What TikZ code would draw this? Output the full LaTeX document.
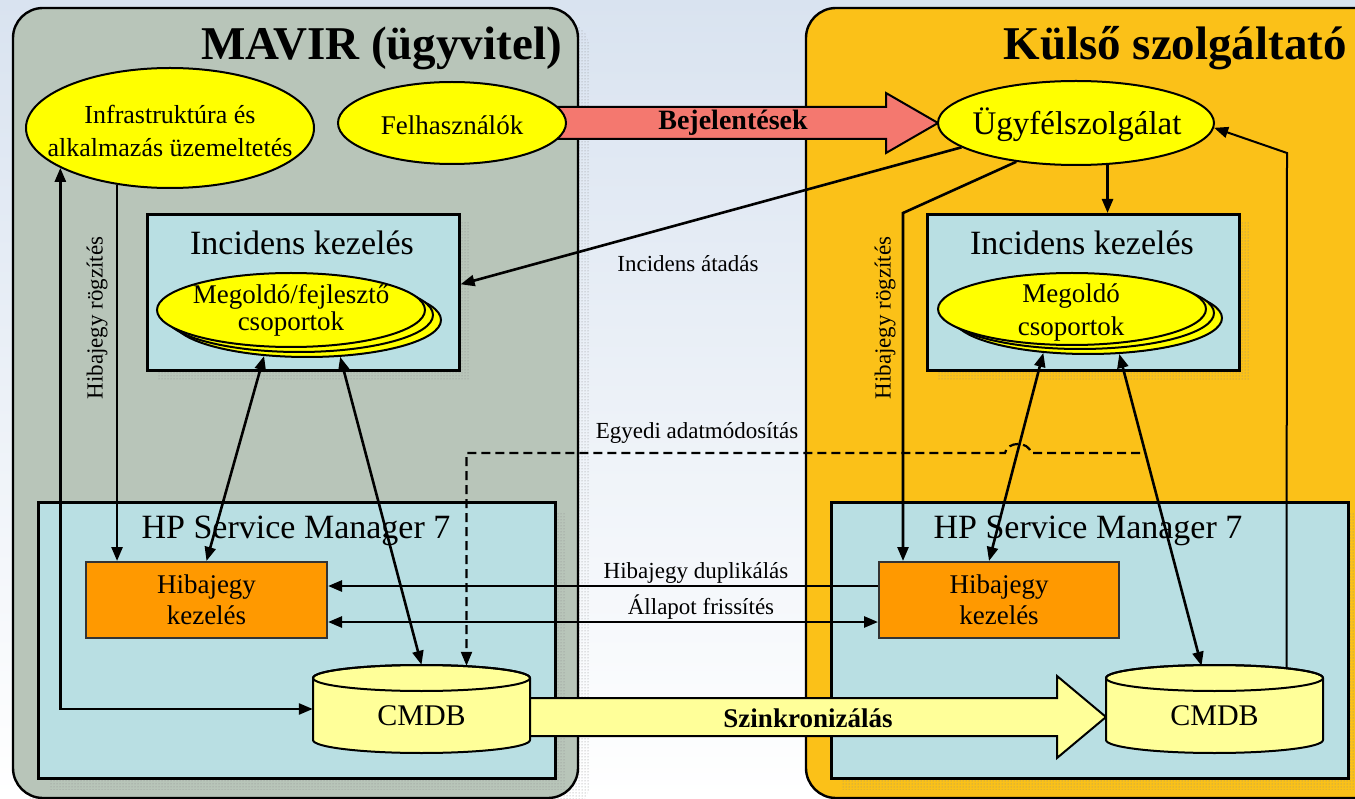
\documentclass[tikz,border=0pt]{standalone}
\usepackage{fontspec}
\setmainfont{Liberation Serif}
\usetikzlibrary{arrows.meta,patterns,calc,shapes.geometric}
\definecolor{bgblue}{HTML}{D9E3F0}
\definecolor{mavir}{HTML}{B8C5B9}
\definecolor{kulso}{HTML}{FBC118}
\definecolor{boxcyan}{HTML}{B9DFE3}
\definecolor{ellyellow}{HTML}{FFFF00}
\definecolor{hiborange}{HTML}{FF9900}
\definecolor{cmdbyellow}{HTML}{FFFF99}
\definecolor{bejred}{HTML}{F4786F}
\newcommand{\fsz}[2]{\fontsize{#1}{#2}\selectfont}
\begin{document}
\begin{tikzpicture}[x=1pt,y=-1pt,
  panel/.style={draw=black,line width=2.4pt,rounded corners=30pt},
  shadowdots/.style={pattern=dots,pattern color=black!45},
  cbox/.style={rectangle,draw=black,line width=2.6pt,fill=boxcyan,inner sep=0pt},
  ell/.style={ellipse,draw=black,line width=2pt,fill=ellyellow,inner sep=0pt},
  etext/.style={align=center,inner sep=0pt},
  hib/.style={rectangle,draw=black!80,line width=2pt,fill=hiborange,inner sep=0pt,align=center,font=\fsz{27}{31}},
  cyl/.style={fill=cmdbyellow,draw=black,line width=2pt},
  tip/.tip={Triangle[length=14pt,width=11pt]},
  conn/.style={line width=2.6pt,-tip},
  bconn/.style={line width=2.6pt,tip-tip},
  lbl/.style={font=\fsz{23}{25},inner sep=0pt},
  ttl/.style={font=\fsz{34}{36},inner sep=0pt},
]
\useasboundingbox (0,0) rectangle (1355,799);
% background
\shade[top color=bgblue,bottom color=white] (0,0) rectangle (1355,799);

% panels
\fill[shadowdots,rounded corners=30pt] (25,20) rectangle (590,812);
\draw[panel,fill=mavir] (13,8) rectangle (578,798);
\draw[panel,fill=kulso] (806,8) rectangle (1400,798);

\node[anchor=base east,font=\bfseries\fsz{47}{50},inner sep=0pt] (tMavir) at (562,60) {MAVIR (ügyvitel)};
\node[anchor=base east,font=\bfseries\fsz{47}{50},inner sep=0pt] (tKulso) at (1347,60) {Külső szolgáltató};

% incidens boxes
\fill[shadowdots] (158,223) rectangle (470,380);
\node[cbox,minimum width=312,minimum height=156,anchor=north west] (incL) at (146,213) {};
\node[ttl] (incLt) at (302,243) {Incidens kezelés};
\fill[shadowdots] (938,223) rectangle (1250,380);
\node[cbox,minimum width=312,minimum height=156,anchor=north west] (incR) at (926,213) {};
\node[ttl] (incRt) at (1082,243) {Incidens kezelés};

% stacked ellipses
\node[ell,minimum width=268,minimum height=74] (megL3) at (307,320) {};
\node[ell,minimum width=268,minimum height=74] (megL2) at (299,315) {};
\node[ell,minimum width=268,minimum height=74] (megL) at (291,310) {};
\node[etext,font=\fsz{27}{27}] (megLt) at (291,310) {Megoldó/fejlesztő\\csoportok};
\node[ell,minimum width=268,minimum height=72] (megR3) at (1088,318) {};
\node[ell,minimum width=268,minimum height=72] (megR2) at (1080,313) {};
\node[ell,minimum width=268,minimum height=72] (megR) at (1072,309) {};
\node[etext,font=\fsz{27}{33}] (megRt) at (1071,312) {Megoldó\\csoportok};

% HP boxes
\fill[shadowdots] (49,513) rectangle (566,789);
\node[cbox,minimum width=517,minimum height=276,anchor=north west] (hpL) at (37,501) {};
\node[ttl] (hpLt) at (296,531) {HP Service Manager 7};
\fill[shadowdots] (842,513) rectangle (1359,789);
\node[cbox,minimum width=517,minimum height=276,anchor=north west] (hpR) at (830,501) {};
\node[ttl] (hpRt) at (1088,531) {HP Service Manager 7};

% hibajegy boxes
\node[hib,minimum width=241,minimum height=76,anchor=north west] (hibL) at (85,561) {Hibajegy\\kezelés};
\node[hib,minimum width=240,minimum height=76,anchor=north west] (hibR) at (878,561) {Hibajegy\\kezelés};

% sync arrow
\filldraw[fill=cmdbyellow,draw=black,line width=2pt] (520,698) -- (1057,698) -- (1057,676) -- (1106,717) -- (1057,758) -- (1057,736) -- (520,736) -- cycle;
\node[font=\bfseries\fsz{27}{28},inner sep=0pt] (sync) at (808,718) {Szinkronizálás};

% CMDB cylinders
\filldraw[cyl] (313,678) -- (313,740) arc[start angle=180,end angle=0,x radius=108.5,y radius=13] -- (530,678) arc[start angle=0,end angle=-180,x radius=108.5,y radius=13] -- cycle;
\draw[line width=2pt] (421.5,678) ellipse[x radius=108.5,y radius=13];
\node[minimum width=217,minimum height=88,inner sep=0pt] (cmdbL) at (421.5,709) {};
\node[font=\fsz{30}{30},inner sep=0pt] (cmdbLt) at (421.5,716) {CMDB};
\filldraw[cyl] (1106,678) -- (1106,740) arc[start angle=180,end angle=0,x radius=108.5,y radius=13] -- (1323,678) arc[start angle=0,end angle=-180,x radius=108.5,y radius=13] -- cycle;
\draw[line width=2pt] (1214.5,678) ellipse[x radius=108.5,y radius=13];
\node[minimum width=217,minimum height=88,inner sep=0pt] (cmdbR) at (1214.5,709) {};
\node[font=\fsz{30}{30},inner sep=0pt] (cmdbRt) at (1214.5,716) {CMDB};

% Bejelentesek arrow
\filldraw[fill=bejred,draw=black,line width=2pt] (540,107) -- (886,107) -- (886,93) -- (938,123) -- (886,153) -- (886,139) -- (540,139) -- cycle;
\node[font=\bfseries\fsz{28}{28},inner sep=0pt] (bej) at (733,123) {Bejelentések};

% top ellipses
\node[ell,minimum width=288,minimum height=120] (infra) at (170,128) {};
\node[etext,font=\fsz{26}{33}] (infraT) at (170,131) {Infrastruktúra és\\alkalmazás üzemeltetés};
\node[ell,minimum width=228,minimum height=82] (felh) at (452,123) {};
\node[etext,font=\fsz{27}{30}] (felhT) at (452,125) {Felhasználók};
\node[ell,minimum width=276,minimum height=84] (ugyf) at (1076,123) {};
\node[etext,font=\fsz{33}{34}] (ugyfT) at (1077,125) {Ügyfélszolgálat};

% connectors
\draw[bconn] (infra.200) |- (cmdbL.west);
\draw[conn] (infra.227) -- (infra.227 |- hibL.north);
\draw[bconn] (megL3.220) -- (hibL.north);
\draw[bconn] (megL3.312) -- (cmdbL.north);
\draw[conn] (ugyf.192) -- ($(incL.east)+(0,-8)$);
\coordinate (kR) at (903,213);
\draw[conn] (ugyf.213) -- (kR) -- (kR |- hibR.north);
\draw[conn] (ugyf.307) -- (ugyf.307 |- incR.north);
\coordinate (fbS) at ($(cmdbR.north)+(72,3)$);
\coordinate (fbK) at (1287,153);
\draw[line width=2pt,-tip] (fbS) -- (fbK) -- (ugyf.358);
\draw[bconn] (megR3.218) -- ($(hibR.north)+(-10,0)$);
\draw[bconn] (megR3.311) -- ($(cmdbR.north)+(-13,1)$);
\draw[conn] ($(hibR.west)+(0,-14)$) -- ($(hibL.east)+(0,-14)$);
\draw[bconn] ($(hibL.east)+(0,22)$) -- ($(hibR.west)+(0,22)$);
\coordinate (dashS) at (1140,453);
\coordinate (cmdbLd) at ($(cmdbL.north)+(45,1)$);
\draw[conn,line width=2.2pt,dash pattern=on 9pt off 5pt] (dashS) -- (1031,453) .. controls (1029,441) and (1007,441) .. (1005,453) -- (cmdbLd |- dashS) -- (cmdbLd);

% labels
\node[lbl] (lInc) at (688,264) {Incidens átadás};
\node[lbl] (lEgy) at (697,433) {Egyedi adatmódosítás};
\node[lbl] (lDup) at (696,573) {Hibajegy duplikálás};
\node[lbl] (lAll) at (701,607) {Állapot frissítés};
\node[lbl,rotate=90] (lRogL) at (97,318) {Hibajegy rögzítés};
\node[lbl,rotate=90] (lRogR) at (885,318) {Hibajegy rögzítés};
\end{tikzpicture}
\end{document}
